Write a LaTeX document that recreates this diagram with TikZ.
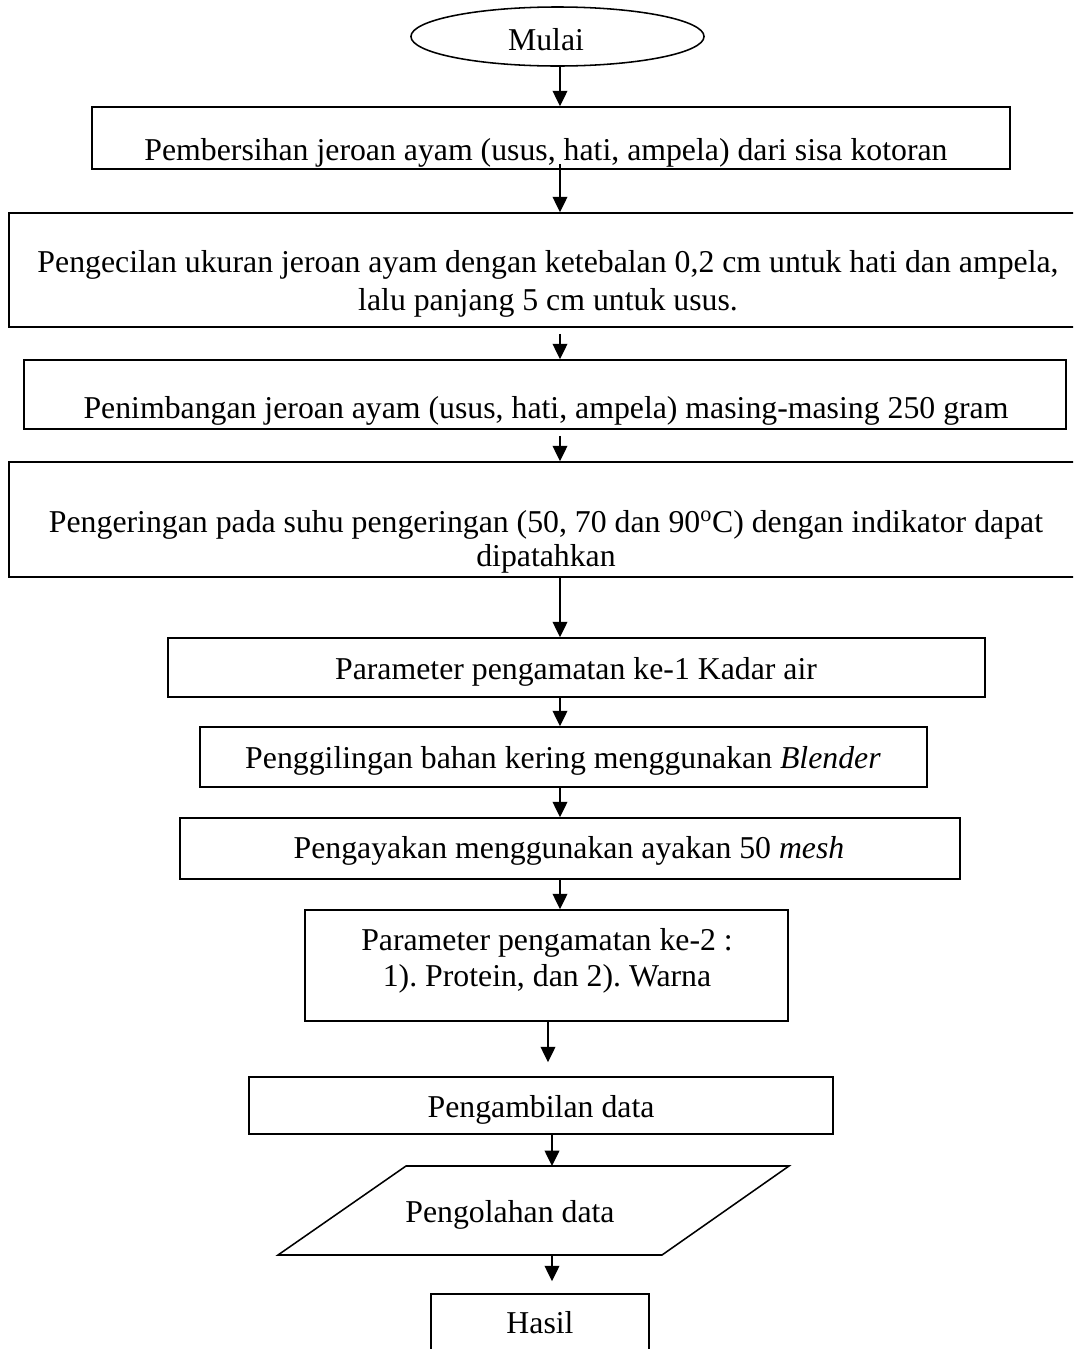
\documentclass[tikz,border=0pt]{standalone}
\usepackage{fontspec}
\setmainfont{Liberation Serif}
\usetikzlibrary{arrows.meta,shapes.geometric,fit}
\begin{document}
\frenchspacing
\begin{tikzpicture}[x=0.025cm,y=-0.025cm,
  box/.style={draw,line width=1.1pt,inner sep=0pt},
  txt/.style={anchor=base,inner sep=0pt,font=\fontsize{22.6}{30}\selectfont},
  arr/.style={line width=1.1pt,-{Triangle[width=10.5pt,length=11pt]}}]
\path[use as bounding box,clip] (0,0) rectangle (1073,1349);
\fill[white] (0,0) rectangle (1073,1349);
% shapes
\node[box,ellipse,minimum width=7.325cm,minimum height=1.475cm] (b0) at (557.5,36.5) {};
\node[box,fit={(92,107) (1010,169)}] (b1) {};
\node[box,fit={(9,213) (1085,327)}] (b2) {};
\node[box,fit={(24,360) (1066,429)}] (b3) {};
\node[box,fit={(9,462) (1085,577)}] (b4) {};
\node[box,fit={(168,638) (985,697)}] (b5) {};
\node[box,fit={(200,727) (927,787)}] (b6) {};
\node[box,fit={(180,818) (960,879)}] (b7) {};
\node[box,fit={(305,910) (788,1021)}] (b8) {};
\node[box,fit={(249,1077) (833,1134)}] (b9) {};
\draw[line width=1.1pt,line join=miter] (406,1166) -- (789,1166) -- (662,1255) -- (278,1255) -- cycle;
\coordinate (p10t) at (552,1166);
\coordinate (p10b) at (552,1255);
\node[box,fit={(431,1294) (649,1370)}] (b11) {};
% texts
\node[txt] (t0) at (546,50) {Mulai};
\node[txt] (t1) at (546,160.7) {Pembersihan jeroan ayam (usus, hati, ampela) dari sisa kotoran};
\node[txt] (t2a) at (548,272) {Pengecilan ukuran jeroan ayam dengan ketebalan 0,2 cm untuk hati dan ampela,};
\node[txt] (t2b) at (548,310) {lalu panjang 5 cm untuk usus.};
\node[txt] (t3) at (546,418) {Penimbangan jeroan ayam (usus, hati, ampela) masing-masing 250 gram};
\node[txt] (t4a) at (546,532) {Pengeringan pada suhu pengeringan (50, 70 dan 90\textsuperscript{o}C) dengan indikator dapat};
\node[txt] (t4b) at (546,566) {dipatahkan};
\node[txt] (t5) at (576,679) {Parameter pengamatan ke-1 Kadar air};
\node[txt] (t6) at (563,768) {Penggilingan bahan kering menggunakan \textit{Blender}};
\node[txt] (t7) at (569,858) {Pengayakan menggunakan ayakan 50 \textit{mesh}};
\node[txt] (t8a) at (547,950) {Parameter pengamatan ke-2 :};
\node[txt] (t8b) at (547,986) {1). Protein, dan 2). Warna};
\node[txt] (t9) at (541,1117) {Pengambilan data};
\node[txt] (t10) at (510,1222) {Pengolahan data};
\node[txt] (t11) at (540,1333) {Hasil};
% connectors
\coordinate (ax) at (560,0);
\coordinate (bx) at (548,0);
\draw[arr] (b0.south -| ax) -- (b1.north -| ax);
\draw[arr] ([yshift=0.15cm]b1.south -| ax) -- (b2.north -| ax);
\draw[arr,shorten <=0.15cm] (b2.south -| ax) -- (b3.north -| ax);
\draw[arr,shorten <=0.15cm] (b3.south -| ax) -- (b4.north -| ax);
\draw[arr] (b4.south -| ax) -- (b5.north -| ax);
\draw[arr] (b5.south -| ax) -- (b6.north -| ax);
\draw[arr] (b6.south -| ax) -- (b7.north -| ax);
\draw[arr] (b7.south -| ax) -- (b8.north -| ax);
\draw[arr,shorten >=0.35cm] (b8.south -| bx) -- (b9.north -| bx);
\draw[arr] (b9.south -| p10t) -- (p10t);
\draw[arr,shorten >=0.3cm] (p10b) -- (b11.north -| p10b);
\end{tikzpicture}
\end{document}
